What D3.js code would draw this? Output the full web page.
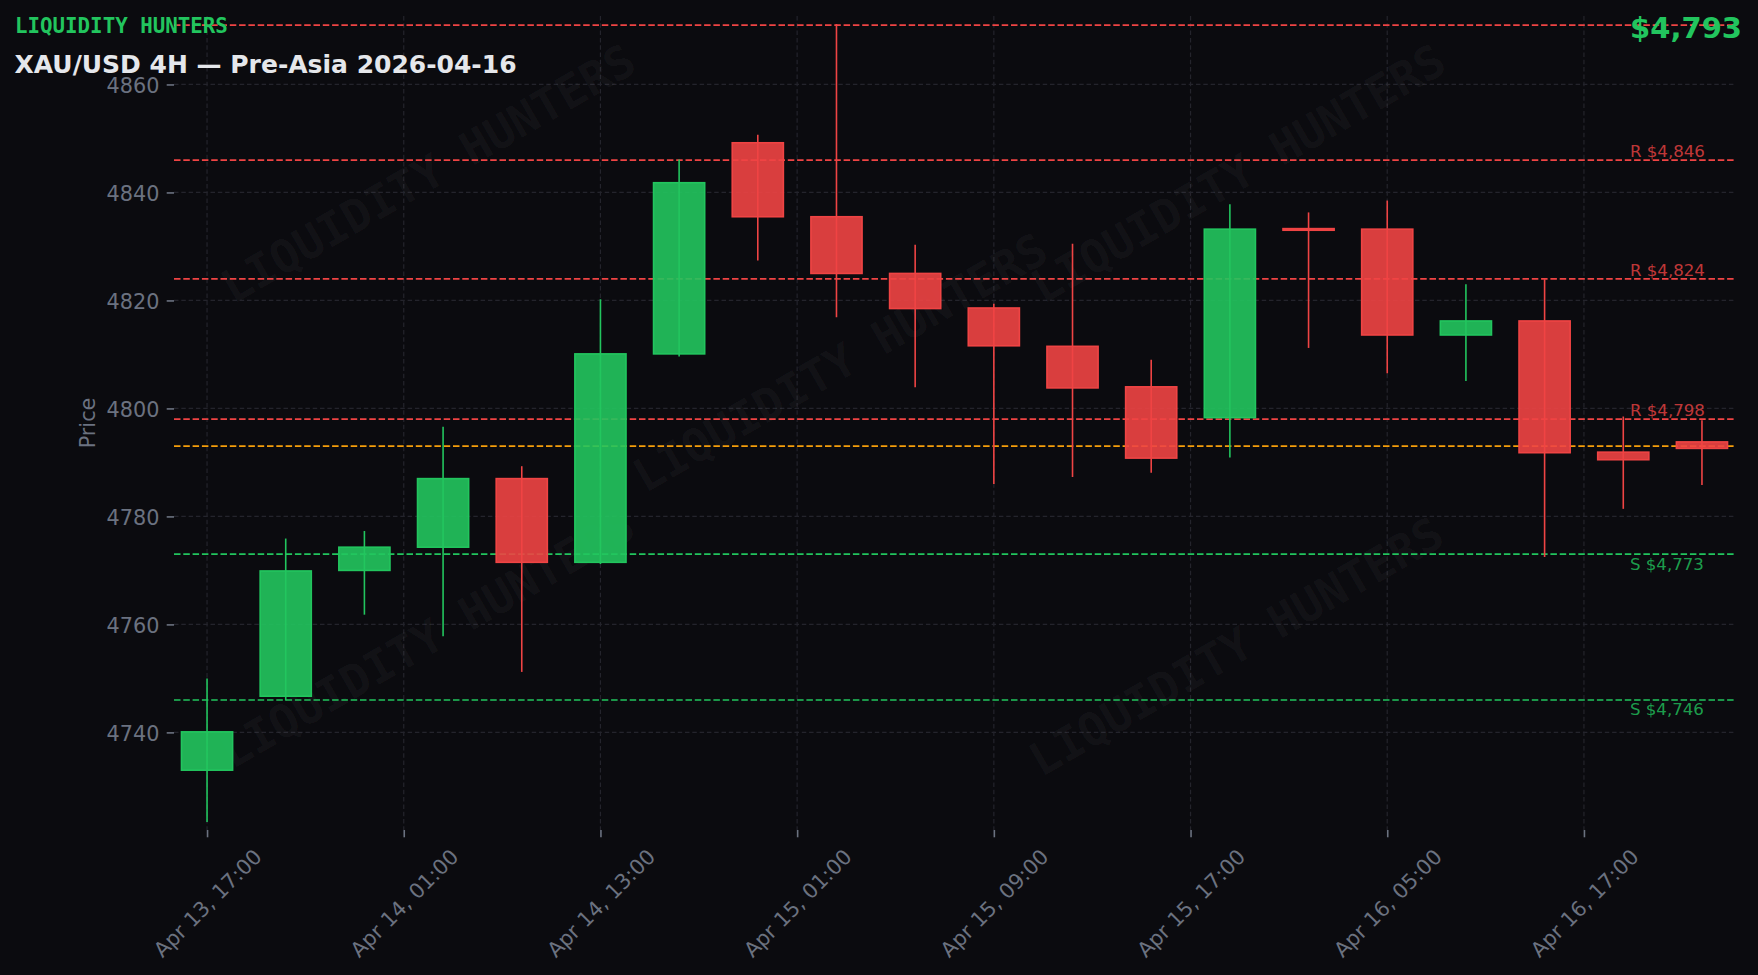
<!DOCTYPE html>
<html>
<head>
<meta charset="utf-8">
<script src="https://cdn.jsdelivr.net/npm/d3@7"></script>
<style>
  html, body { margin: 0; padding: 0; background: #0b0b0f; }
  svg { display: block; }
</style>
</head>
<body>
<svg id="chart" width="1758" height="975"></svg>
<script>
// ---------------- DATA ----------------
const times = [
  "2026-04-13T17:00", "2026-04-13T21:00", "2026-04-14T01:00", "2026-04-14T05:00",
  "2026-04-14T09:00", "2026-04-14T13:00", "2026-04-14T17:00", "2026-04-14T21:00",
  "2026-04-15T01:00", "2026-04-15T05:00", "2026-04-15T09:00", "2026-04-15T13:00",
  "2026-04-15T17:00", "2026-04-15T21:00", "2026-04-16T01:00", "2026-04-16T05:00",
  "2026-04-16T09:00", "2026-04-16T13:00", "2026-04-16T17:00", "2026-04-16T21:00"
];
const opens  = [4733.0, 4746.7, 4770.0, 4774.3, 4787.0, 4771.5, 4810.1, 4849.2, 4835.5, 4825.0,
                4818.6, 4811.5, 4804.0, 4798.3, 4833.3, 4833.2, 4813.6, 4816.2, 4791.9, 4793.8];
const highs  = [4750.0, 4775.9, 4777.3, 4796.6, 4789.3, 4820.2, 4846.1, 4850.7, 4871.2, 4830.3,
                4819.4, 4830.5, 4809.0, 4837.8, 4836.3, 4838.5, 4823.0, 4823.9, 4798.5, 4797.8];
const lows   = [4723.4, 4745.9, 4761.8, 4757.8, 4751.2, 4771.2, 4809.6, 4827.4, 4816.9, 4803.9,
                4786.0, 4787.3, 4788.1, 4790.9, 4811.2, 4806.5, 4805.1, 4772.5, 4781.4, 4785.8];
const closes = [4740.1, 4769.9, 4774.3, 4787.0, 4771.5, 4810.1, 4841.8, 4835.5, 4825.0, 4818.5,
                4811.6, 4803.8, 4790.8, 4833.2, 4833.0, 4813.6, 4816.2, 4791.8, 4790.5, 4792.6];

const yTickValues = [4740, 4760, 4780, 4800, 4820, 4840, 4860];
const xTickPositions = [0, 2.5, 5, 7.5, 10, 12.5, 15, 17.5];
const resistanceLevels = [4871, 4846, 4824, 4798];
const supportLevels = [4773, 4746];
const currentPrice = 4793;

const brandText = "LIQUIDITY HUNTERS";
const titleText = "XAU/USD 4H \u2014 Pre-Asia 2026-04-16";
const yAxisTitle = "Price";

// ---------------- LAYOUT / STYLE ----------------
const W = 1758, H = 975;
const M = { left: 174, right: 1735, top: 16, bottom: 830 };
const BG = "#0b0b0f";
const GREEN = "#22c55e", RED = "#ef4444", AMBER = "#f59e0b";
const GRAY = "#6b7280", GRID = "#24242c";
const FONT = "'DejaVu Sans', sans-serif";
const MONO = "'DejaVu Sans Mono', monospace";

const svg = d3.select("#chart");
svg.append("rect").attr("width", W).attr("height", H).attr("fill", BG);

const parse = d3.timeParse("%Y-%m-%dT%H:%M");
const fmt = d3.timeFormat("%b %d, %H:%M");
const dates = times.map(parse);

const lo = d3.min(lows), hi = d3.max(highs);
const pad = (hi - lo) * 0.01;
const y = d3.scaleLinear().domain([lo - pad, hi + pad]).range([M.bottom, M.top]);
const x = d3.scaleLinear().domain([-0.42, times.length - 1 + 0.42]).range([M.left, M.right]);
const step = x(1) - x(0);

svg.append("defs").append("clipPath").attr("id", "plotclip")
  .append("rect").attr("x", M.left).attr("y", M.top)
  .attr("width", M.right - M.left).attr("height", M.bottom - M.top);

const plot = svg.append("g").attr("clip-path", "url(#plotclip)");

// grid
plot.append("g").selectAll("line").data(yTickValues).join("line")
  .attr("x1", M.left).attr("x2", M.right)
  .attr("y1", d => y(d)).attr("y2", d => y(d))
  .attr("stroke", GRID).attr("stroke-width", 1.2).attr("stroke-dasharray", "4.5,2.8");
plot.append("g").selectAll("line").data(xTickPositions).join("line")
  .attr("y1", M.top).attr("y2", M.bottom)
  .attr("x1", d => x(d)).attr("x2", d => x(d))
  .attr("stroke", GRID).attr("stroke-width", 1.2).attr("stroke-dasharray", "4.5,2.8");

// watermarks (decorative positions)
const wmPos = [[428, 173], [1238, 173], [840, 362], [427, 638], [1236, 646]];
plot.append("g").selectAll("text").data(wmPos).join("text")
  .attr("transform", d => `translate(${d[0]},${d[1]}) rotate(-30)`)
  .attr("text-anchor", "middle").attr("dy", "0.36em")
  .attr("font-family", MONO).attr("font-weight", "bold").attr("font-size", 45.8)
  .attr("fill", "#ffffff").attr("fill-opacity", 0.045)
  .text(brandText);

// level lines
plot.append("g").selectAll("line").data(resistanceLevels).join("line")
  .attr("x1", M.left).attr("x2", M.right)
  .attr("y1", d => y(d)).attr("y2", d => y(d))
  .attr("stroke", RED).attr("stroke-width", 1.7).attr("stroke-dasharray", "6.5,2.8");
plot.append("g").selectAll("line").data(supportLevels).join("line")
  .attr("x1", M.left).attr("x2", M.right)
  .attr("y1", d => y(d)).attr("y2", d => y(d))
  .attr("stroke", GREEN).attr("stroke-width", 1.7).attr("stroke-dasharray", "6.5,2.8");
plot.append("line")
  .attr("x1", M.left).attr("x2", M.right)
  .attr("y1", y(currentPrice)).attr("y2", y(currentPrice))
  .attr("stroke", AMBER).attr("stroke-width", 1.7).attr("stroke-dasharray", "6.5,2.8");

// candles
const idx = d3.range(times.length);
const colorOf = i => closes[i] >= opens[i] ? GREEN : RED;
const bodyW = 0.65 * step;
const candles = plot.append("g");
candles.selectAll("line").data(idx).join("line")
  .attr("x1", i => x(i)).attr("x2", i => x(i))
  .attr("y1", i => y(highs[i])).attr("y2", i => y(lows[i]))
  .attr("stroke", colorOf).attr("stroke-width", 1.6);
candles.selectAll("rect").data(idx).join("rect")
  .attr("x", i => x(i) - bodyW / 2)
  .attr("width", bodyW)
  .attr("y", i => y(Math.max(opens[i], closes[i])))
  .attr("height", i => Math.max(0.5, Math.abs(y(opens[i]) - y(closes[i]))))
  .attr("fill", colorOf).attr("fill-opacity", 0.9)
  .attr("stroke", colorOf).attr("stroke-width", 1.6);

// level labels
const fmtPrice = d3.format(",.0f");
svg.append("g").selectAll("text")
  .data(resistanceLevels.filter(v => y(v) - 16 > M.top)).join("text")
  .attr("x", 1630).attr("y", d => y(d) - 3.3)
  .attr("font-family", FONT).attr("font-size", 16.6)
  .attr("fill", RED).attr("fill-opacity", 0.8)
  .text(d => "R $" + fmtPrice(d));
svg.append("g").selectAll("text").data(supportLevels).join("text")
  .attr("x", 1630).attr("y", d => y(d) + 15.5)
  .attr("font-family", FONT).attr("font-size", 16.6)
  .attr("fill", GREEN).attr("fill-opacity", 0.8)
  .text(d => "S $" + fmtPrice(d));

// axes
const yAxis = d3.axisLeft(y).tickValues(yTickValues).tickSize(7.3).tickPadding(7.3).tickFormat(d3.format("d"));
const gy = svg.append("g").attr("transform", `translate(${M.left},0)`).call(yAxis);
gy.select(".domain").remove();
gy.selectAll(".tick line").attr("stroke", GRAY).attr("stroke-width", 1.6);
gy.selectAll(".tick text").attr("fill", GRAY).attr("font-family", FONT).attr("font-size", 20.8)
  .attr("dy", "0.37em");

function roundHalfEven(p) {
  const f = Math.floor(p);
  if (Math.abs(p - f - 0.5) < 1e-9) return f % 2 === 0 ? f : f + 1;
  return Math.round(p);
}
const xAxis = d3.axisBottom(x).tickValues(xTickPositions).tickSize(7.3)
  .tickFormat(p => fmt(dates[roundHalfEven(p)]));
const gx = svg.append("g").attr("transform", `translate(0,${M.bottom})`).call(xAxis);
gx.select(".domain").remove();
gx.selectAll(".tick line").attr("stroke", GRAY).attr("stroke-width", 1.6);
gx.selectAll(".tick text").attr("fill", GRAY).attr("font-family", FONT).attr("font-size", 20.8)
  .attr("y", 0).attr("dy", "0.36em").attr("text-anchor", "middle")
  .attr("transform", "translate(0,73) rotate(-45)");

// y axis title
svg.append("text")
  .attr("transform", `translate(94.5,${(M.top + M.bottom) / 2}) rotate(-90)`)
  .attr("text-anchor", "middle")
  .attr("font-family", FONT).attr("font-size", 20.8).attr("fill", GRAY)
  .text(yAxisTitle);

// header texts
svg.append("text").attr("x", 15).attr("y", 33.3)
  .attr("font-family", MONO).attr("font-weight", "bold").attr("font-size", 20.8)
  .attr("fill", GREEN).text(brandText);
svg.append("text").attr("x", 14.5).attr("y", 73)
  .attr("font-family", FONT).attr("font-weight", "bold").attr("font-size", 25)
  .attr("fill", "#e5e7eb").text(titleText);
svg.append("text").attr("x", 1742).attr("y", 38.3).attr("text-anchor", "end")
  .attr("font-family", FONT).attr("font-weight", "bold").attr("font-size", 29)
  .attr("fill", GREEN).text("$" + fmtPrice(currentPrice));
</script>
</body>
</html>
